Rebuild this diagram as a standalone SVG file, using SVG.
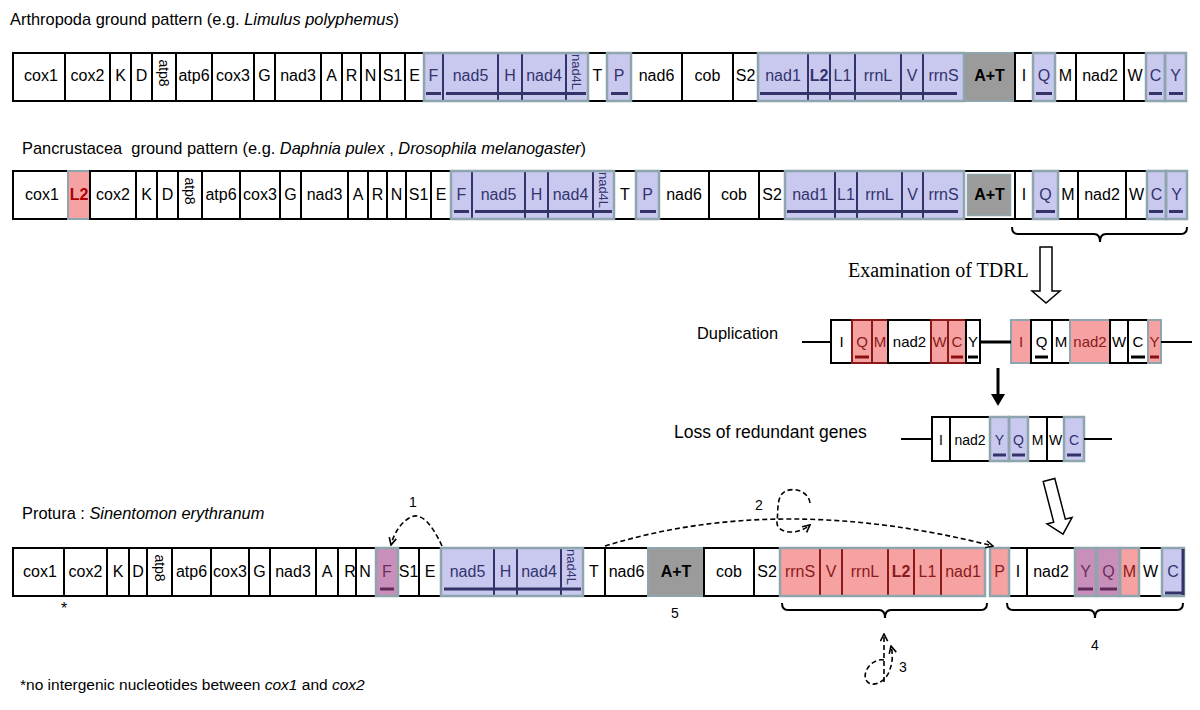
<svg xmlns="http://www.w3.org/2000/svg" width="1200" height="710" viewBox="0 0 1200 710">
<style>
.w{fill:#fff;stroke:#000;stroke-width:2}
.bl{fill:#c9c9ef;stroke:#33336a;stroke-width:2}
.pk{fill:#f6a2a2;stroke:#8a1a1a;stroke-width:2}
.pu{fill:#c98fbb;stroke:#5a3a6a;stroke-width:2}
.gy{fill:#9b9b9b;stroke:#8fa5ad;stroke-width:2}
.ol{fill:none;stroke:#8fa5ad;stroke-width:2.5}
.t{font-family:"Liberation Sans",Arial,sans-serif;font-size:16px;text-anchor:middle;fill:#000}
.s15{font-size:15px}
.s14{font-size:14px}
.tn{fill:#33336e}
.tr{fill:#8b1a1a}
.tpu{fill:#6a2f5a}
.bd{font-weight:bold}
.rot{font-size:14px}
.bar{stroke:#33336a;stroke-width:3}
.barr{stroke:#8a1010;stroke-width:3}
.bark{stroke:#000;stroke-width:3}
.barp{stroke:#5e2a5a;stroke-width:3}
.ti{font-family:"Liberation Sans",Arial,sans-serif;font-size:16.4px;fill:#000}
.it{font-style:italic}
.ln{stroke:#000;stroke-width:2}
.dash{fill:none;stroke:#000;stroke-width:1.6;stroke-dasharray:5 3}
.brace{fill:none;stroke:#000;stroke-width:2}
.hol{fill:#fff;stroke:#000;stroke-width:1.5}
.num{font-family:"Liberation Sans",Arial,sans-serif;font-size:14px;text-anchor:middle;fill:#000}
</style>
<defs>
<marker id="ah" viewBox="0 0 10 10" refX="9" refY="5" markerWidth="9" markerHeight="9" markerUnits="userSpaceOnUse" orient="auto"><path d="M1,1 L9,5 L1,9" fill="none" stroke="#000" stroke-width="1.8"/></marker>
</defs>

<text class="ti" x="10" y="25">Arthropoda ground pattern (e.g. <tspan class="it">Limulus polyphemus</tspan>)</text>
<text class="ti" x="22" y="154" xml:space="preserve">Pancrustacea  ground pattern (e.g. <tspan class="it">Daphnia pulex</tspan> , <tspan class="it">Drosophila melanogaster</tspan>)</text>
<text class="ti" x="22" y="519">Protura : <tspan class="it">Sinentomon erythranum</tspan></text>

<!-- Row 1 -->
<g id="row1">
<g id="r1-cox1"><rect class="w" x="13" y="53" width="52" height="48"/><text class="t" x="41" y="81">cox1</text></g>
<g id="r1-cox2"><rect class="w" x="65" y="53" width="45" height="48"/><text class="t" x="87.5" y="81">cox2</text></g>
<g id="r1-K"><rect class="w" x="110" y="53" width="21" height="48"/><text class="t" x="120.5" y="81">K</text></g>
<g id="r1-D"><rect class="w" x="131" y="53" width="21" height="48"/><text class="t" x="141.5" y="81">D</text></g>
<g id="r1-atp8"><rect class="w" x="152" y="53" width="24" height="48"/><text class="t rot" transform="translate(164,73) rotate(90)" dy="0.35em">atp8</text></g>
<g id="r1-atp6"><rect class="w" x="176" y="53" width="36" height="48"/><text class="t" x="194" y="81">atp6</text></g>
<g id="r1-cox3"><rect class="w" x="212" y="53" width="42" height="48"/><text class="t" x="233" y="81">cox3</text></g>
<g id="r1-G"><rect class="w" x="254" y="53" width="21" height="48"/><text class="t" x="264.5" y="81">G</text></g>
<g id="r1-nad3"><rect class="w" x="275" y="53" width="46" height="48"/><text class="t" x="298" y="81">nad3</text></g>
<g id="r1-A"><rect class="w" x="321" y="53" width="21" height="48"/><text class="t" x="331.5" y="81">A</text></g>
<g id="r1-R"><rect class="w" x="342" y="53" width="19" height="48"/><text class="t" x="351.5" y="81">R</text></g>
<g id="r1-N"><rect class="w" x="361" y="53" width="19" height="48"/><text class="t" x="370.5" y="81">N</text></g>
<g id="r1-S1"><rect class="w" x="380" y="53" width="25" height="48"/><text class="t" x="392.5" y="81">S1</text></g>
<g id="r1-E"><rect class="w" x="405" y="53" width="19" height="48"/><text class="t" x="414.5" y="81">E</text></g>
<g id="r1-F"><rect class="bl" x="424" y="53" width="19" height="48"/><text class="t tn" x="433.5" y="81">F</text></g>
<g id="r1-nad5"><rect class="bl" x="443" y="53" width="55" height="48"/><text class="t tn" x="470.5" y="81">nad5</text></g>
<g id="r1-H"><rect class="bl" x="498" y="53" width="24" height="48"/><text class="t tn" x="510" y="81">H</text></g>
<g id="r1-nad4"><rect class="bl" x="522" y="53" width="44" height="48"/><text class="t tn" x="544" y="81">nad4</text></g>
<g id="r1-nad4L"><rect class="bl" x="566" y="53" width="22" height="48"/><text class="t tn" style="font-size:13px" transform="translate(577,72) rotate(90)" dy="0.35em">nad4L</text></g>
<g id="r1-T"><rect class="w" x="588" y="53" width="19" height="48"/><text class="t" x="597.5" y="81">T</text></g>
<g id="r1-P"><rect class="bl" x="607" y="53" width="24" height="48"/><text class="t tn" x="619" y="81">P</text></g>
<g id="r1-nad6"><rect class="w" x="631" y="53" width="51" height="48"/><text class="t" x="656.5" y="81">nad6</text></g>
<g id="r1-cob"><rect class="w" x="682" y="53" width="51" height="48"/><text class="t" x="707.5" y="81">cob</text></g>
<g id="r1-S2"><rect class="w" x="733" y="53" width="25" height="48"/><text class="t" x="745.5" y="81">S2</text></g>
<g id="r1-nad1"><rect class="bl" x="758" y="53" width="50" height="48"/><text class="t tn" x="783" y="81">nad1</text></g>
<g id="r1-L2"><rect class="bl" x="808" y="53" width="22" height="48"/><text class="t tn bd" x="819" y="81">L2</text></g>
<g id="r1-L1"><rect class="bl" x="830" y="53" width="25" height="48"/><text class="t tn" x="842.5" y="81">L1</text></g>
<g id="r1-rrnL"><rect class="bl" x="855" y="53" width="46" height="48"/><text class="t tn" x="878" y="81">rrnL</text></g>
<g id="r1-V"><rect class="bl" x="901" y="53" width="22" height="48"/><text class="t tn" x="912" y="81">V</text></g>
<g id="r1-rrnS"><rect class="bl" x="923" y="53" width="41" height="48"/><text class="t tn" x="943.5" y="81">rrnS</text></g>
<g id="r1-AT"><rect class="gy" x="964" y="53" width="51" height="48"/><text class="t bd" x="989.5" y="81">A+T</text></g>
<g id="r1-I"><rect class="w" x="1015" y="53" width="18" height="48"/><text class="t" x="1024" y="81">I</text></g>
<g id="r1-Q"><rect class="bl" x="1033" y="53" width="22" height="48"/><text class="t tn" x="1044" y="81">Q</text></g>
<g id="r1-M"><rect class="w" x="1055" y="53" width="21" height="48"/><text class="t" x="1065.5" y="81">M</text></g>
<g id="r1-nad2"><rect class="w" x="1076" y="53" width="48" height="48"/><text class="t" x="1100" y="81">nad2</text></g>
<g id="r1-W"><rect class="w" x="1124" y="53" width="22" height="48"/><text class="t" x="1135" y="81">W</text></g>
<g id="r1-C"><rect class="bl" x="1146" y="53" width="19" height="48"/><text class="t tn" x="1155.5" y="81">C</text></g>
<g id="r1-Y"><rect class="bl" x="1165" y="53" width="21" height="48"/><text class="t tn" x="1175.5" y="81">Y</text></g>
<g id="r1-marks">
<line class="bar" x1="426" y1="93.5" x2="441" y2="93.5"/><line class="bar" x1="446" y1="93.5" x2="586" y2="93.5"/>
<line class="bar" x1="611" y1="93.5" x2="628" y2="93.5"/><line class="bar" x1="760" y1="93.5" x2="957" y2="93.5"/>
<line class="bar" x1="1036" y1="93.5" x2="1052" y2="93.5"/><line class="bar" x1="1149" y1="93.5" x2="1162" y2="93.5"/><line class="bar" x1="1169" y1="93.5" x2="1183" y2="93.5"/>
<rect class="ol" x="424" y="53" width="164" height="48"/><rect class="ol" x="607" y="53" width="24" height="48"/>
<rect class="ol" x="758" y="53" width="206" height="48"/><rect class="ol" x="1033" y="53" width="22" height="48"/>
<rect class="ol" x="1146" y="53" width="19" height="48"/><rect class="ol" x="1165" y="53" width="21" height="48"/>
</g>
</g>

<!-- Row 2 -->
<g id="row2">
<g id="r2-cox1"><rect class="w" x="13" y="171" width="55" height="48"/><text class="t" x="42" y="200">cox1</text></g>
<g id="r2-L2"><rect class="pk" x="68" y="171" width="22" height="48" style="stroke:#8fa5ad"/><text class="t bd" x="79" y="200" style="fill:#b00000">L2</text></g>
<g id="r2-cox2"><rect class="w" x="90" y="171" width="46" height="48"/><text class="t" x="113" y="200">cox2</text></g>
<g id="r2-K"><rect class="w" x="136" y="171" width="21" height="48"/><text class="t" x="146.5" y="200">K</text></g>
<g id="r2-D"><rect class="w" x="157" y="171" width="21" height="48"/><text class="t" x="167.5" y="200">D</text></g>
<g id="r2-atp8"><rect class="w" x="178" y="171" width="24" height="48"/><text class="t rot" transform="translate(190,191) rotate(90)" dy="0.35em">atp8</text></g>
<g id="r2-atp6"><rect class="w" x="202" y="171" width="38" height="48"/><text class="t" x="221" y="200">atp6</text></g>
<g id="r2-cox3"><rect class="w" x="240" y="171" width="40" height="48"/><text class="t" x="260" y="200">cox3</text></g>
<g id="r2-G"><rect class="w" x="280" y="171" width="21" height="48"/><text class="t" x="290.5" y="200">G</text></g>
<g id="r2-nad3"><rect class="w" x="301" y="171" width="47" height="48"/><text class="t" x="324.5" y="200">nad3</text></g>
<g id="r2-A"><rect class="w" x="348" y="171" width="20" height="48"/><text class="t" x="358" y="200">A</text></g>
<g id="r2-R"><rect class="w" x="368" y="171" width="19" height="48"/><text class="t" x="377.5" y="200">R</text></g>
<g id="r2-N"><rect class="w" x="387" y="171" width="19" height="48"/><text class="t" x="396.5" y="200">N</text></g>
<g id="r2-S1"><rect class="w" x="406" y="171" width="25" height="48"/><text class="t" x="418.5" y="200">S1</text></g>
<g id="r2-E"><rect class="w" x="431" y="171" width="20" height="48"/><text class="t" x="441" y="200">E</text></g>
<g id="r2-F"><rect class="bl" x="451" y="171" width="21" height="48"/><text class="t tn" x="461.5" y="200">F</text></g>
<g id="r2-nad5"><rect class="bl" x="472" y="171" width="53" height="48"/><text class="t tn" x="498.5" y="200">nad5</text></g>
<g id="r2-H"><rect class="bl" x="525" y="171" width="23" height="48"/><text class="t tn" x="536.5" y="200">H</text></g>
<g id="r2-nad4"><rect class="bl" x="548" y="171" width="45" height="48"/><text class="t tn" x="570.5" y="200">nad4</text></g>
<g id="r2-nad4L"><rect class="bl" x="593" y="171" width="21" height="48"/><text class="t tn" style="font-size:13px" transform="translate(603.5,190) rotate(90)" dy="0.35em">nad4L</text></g>
<g id="r2-T"><rect class="w" x="614" y="171" width="22" height="48"/><text class="t" x="625" y="200">T</text></g>
<g id="r2-P"><rect class="bl" x="636" y="171" width="23" height="48"/><text class="t tn" x="647.5" y="200">P</text></g>
<g id="r2-nad6"><rect class="w" x="659" y="171" width="50" height="48"/><text class="t" x="684" y="200">nad6</text></g>
<g id="r2-cob"><rect class="w" x="709" y="171" width="50" height="48"/><text class="t" x="734" y="200">cob</text></g>
<g id="r2-S2"><rect class="w" x="759" y="171" width="26" height="48"/><text class="t" x="772" y="200">S2</text></g>
<g id="r2-nad1"><rect class="bl" x="785" y="171" width="50" height="48"/><text class="t tn" x="810" y="200">nad1</text></g>
<g id="r2-L1"><rect class="bl" x="835" y="171" width="22" height="48"/><text class="t tn" x="846" y="200">L1</text></g>
<g id="r2-rrnL"><rect class="bl" x="857" y="171" width="45" height="48"/><text class="t tn" x="879.5" y="200">rrnL</text></g>
<g id="r2-V"><rect class="bl" x="902" y="171" width="21" height="48"/><text class="t tn" x="912.5" y="200">V</text></g>
<g id="r2-rrnS"><rect class="bl" x="923" y="171" width="41" height="48"/><text class="t tn" x="943.5" y="200">rrnS</text></g>
<g id="r2-AT"><rect class="w" x="964" y="171" width="51" height="48"/><rect x="967.5" y="174.5" width="43" height="41" style="fill:#9b9b9b;stroke:#8fa5ad;stroke-width:1.5"/><text class="t bd" x="989.5" y="200">A+T</text></g>
<g id="r2-I"><rect class="w" x="1015" y="171" width="18" height="48"/><text class="t" x="1024" y="200">I</text></g>
<g id="r2-Q"><rect class="bl" x="1033" y="171" width="25" height="48"/><text class="t tn" x="1045.5" y="200">Q</text></g>
<g id="r2-M"><rect class="w" x="1058" y="171" width="20" height="48"/><text class="t" x="1068" y="200">M</text></g>
<g id="r2-nad2"><rect class="w" x="1078" y="171" width="48" height="48"/><text class="t" x="1102" y="200">nad2</text></g>
<g id="r2-W"><rect class="w" x="1126" y="171" width="21" height="48"/><text class="t" x="1136.5" y="200">W</text></g>
<g id="r2-C"><rect class="bl" x="1147" y="171" width="19" height="48"/><text class="t tn" x="1156.5" y="200">C</text></g>
<g id="r2-Y"><rect class="bl" x="1166" y="171" width="21" height="48"/><text class="t tn" x="1176.5" y="200">Y</text></g>
<g id="r2-marks">
<line class="bar" x1="454" y1="211.5" x2="469" y2="211.5"/><line class="bar" x1="475" y1="211.5" x2="612" y2="211.5"/>
<line class="bar" x1="640" y1="211.5" x2="656" y2="211.5"/><line class="bar" x1="787" y1="211.5" x2="958" y2="211.5"/>
<line class="bar" x1="1036" y1="211.5" x2="1055" y2="211.5"/><line class="bar" x1="1149" y1="211.5" x2="1163" y2="211.5"/><line class="bar" x1="1169" y1="211.5" x2="1183" y2="211.5"/>
<rect class="ol" x="451" y="171" width="163" height="48"/><rect class="ol" x="636" y="171" width="23" height="48"/>
<rect class="ol" x="785" y="171" width="179" height="48"/><rect class="ol" x="1033" y="171" width="25" height="48"/>
<rect class="ol" x="1147" y="171" width="19" height="48"/><rect class="ol" x="1166" y="171" width="21" height="48"/>
</g>
</g>

<!-- Row 3 -->
<g id="row3">
<g id="r3-cox1"><rect class="w" x="13" y="548" width="51" height="48"/><text class="t" x="40" y="577">cox1</text></g>
<g id="r3-cox2"><rect class="w" x="64" y="548" width="43" height="48"/><text class="t" x="85.5" y="577">cox2</text></g>
<g id="r3-K"><rect class="w" x="107" y="548" width="22" height="48"/><text class="t" x="118" y="577">K</text></g>
<g id="r3-D"><rect class="w" x="129" y="548" width="18" height="48"/><text class="t" x="138" y="577">D</text></g>
<g id="r3-atp8"><rect class="w" x="147" y="548" width="25" height="48"/><text class="t rot" transform="translate(159.5,568) rotate(90)" dy="0.35em">atp8</text></g>
<g id="r3-atp6"><rect class="w" x="172" y="548" width="39" height="48"/><text class="t" x="191.5" y="577">atp6</text></g>
<g id="r3-cox3"><rect class="w" x="211" y="548" width="38" height="48"/><text class="t" x="230" y="577">cox3</text></g>
<g id="r3-G"><rect class="w" x="249" y="548" width="21" height="48"/><text class="t" x="259.5" y="577">G</text></g>
<g id="r3-nad3"><rect class="w" x="270" y="548" width="46" height="48"/><text class="t" x="293" y="577">nad3</text></g>
<g id="r3-A"><rect class="w" x="316" y="548" width="22" height="48"/><text class="t" x="327" y="577">A</text></g>
<g id="r3-R"><rect class="w" x="338" y="548" width="18" height="48"/><text class="t" x="350" y="577">R</text></g>
<g id="r3-N"><rect class="w" x="356" y="548" width="20" height="48"/><text class="t" x="365" y="577">N</text></g>
<g id="r3-F"><rect class="pu" x="376" y="548" width="22" height="48"/><text class="t tpu" x="387" y="577">F</text></g>
<g id="r3-S1"><rect class="w" x="398" y="548" width="21" height="48"/><text class="t" x="408.5" y="577">S1</text></g>
<g id="r3-E"><rect class="w" x="419" y="548" width="22" height="48"/><text class="t" x="430" y="577">E</text></g>
<g id="r3-nad5"><rect class="bl" x="441" y="548" width="53" height="48"/><text class="t tn" x="467.5" y="577">nad5</text></g>
<g id="r3-H"><rect class="bl" x="494" y="548" width="23" height="48"/><text class="t tn" x="505.5" y="577">H</text></g>
<g id="r3-nad4"><rect class="bl" x="517" y="548" width="44" height="48"/><text class="t tn" x="539" y="577">nad4</text></g>
<g id="r3-nad4L"><rect class="bl" x="561" y="548" width="22" height="48"/><text class="t tn" style="font-size:13px" transform="translate(572,567) rotate(90)" dy="0.35em">nad4L</text></g>
<g id="r3-T"><rect class="w" x="583" y="548" width="22" height="48"/><text class="t" x="594" y="577">T</text></g>
<g id="r3-nad6"><rect class="w" x="605" y="548" width="43" height="48"/><text class="t" x="626.5" y="577">nad6</text></g>
<g id="r3-AT"><rect class="gy" x="648" y="548" width="56" height="48"/><text class="t bd" x="676" y="577">A+T</text></g>
<g id="r3-cob"><rect class="w" x="704" y="548" width="50" height="48"/><text class="t" x="729" y="577">cob</text></g>
<g id="r3-S2"><rect class="w" x="754" y="548" width="26" height="48"/><text class="t" x="767" y="577">S2</text></g>
<g id="r3-rrnS"><rect class="pk" x="780" y="548" width="40" height="48"/><text class="t tr" x="800" y="577">rrnS</text></g>
<g id="r3-V"><rect class="pk" x="820" y="548" width="22" height="48"/><text class="t tr" x="831" y="577">V</text></g>
<g id="r3-rrnL"><rect class="pk" x="842" y="548" width="46" height="48"/><text class="t tr" x="865" y="577">rrnL</text></g>
<g id="r3-L2"><rect class="pk" x="888" y="548" width="26" height="48"/><text class="t tr bd" x="901" y="577">L2</text></g>
<g id="r3-L1"><rect class="pk" x="914" y="548" width="27" height="48"/><text class="t tr" x="927.5" y="577">L1</text></g>
<g id="r3-nad1"><rect class="pk" x="941" y="548" width="44" height="48"/><text class="t tr" x="963" y="577">nad1</text></g>
<g id="r3-P"><rect class="pk" x="990" y="548" width="19" height="48"/><text class="t tr" x="999.5" y="577">P</text></g>
<g id="r3-I"><rect class="w" x="1009" y="548" width="18" height="48"/><text class="t" x="1018" y="577">I</text></g>
<g id="r3-nad2"><rect class="w" x="1027" y="548" width="48" height="48"/><text class="t" x="1051" y="577">nad2</text></g>
<g id="r3-Y"><rect class="pu" x="1075" y="548" width="21" height="48"/><text class="t tpu" x="1085.5" y="577">Y</text></g>
<g id="r3-Q"><rect class="pu" x="1097" y="548" width="23" height="48"/><text class="t tpu" x="1108.5" y="577">Q</text></g>
<g id="r3-M"><rect class="pk" x="1120" y="548" width="19" height="48"/><text class="t tr" x="1129.5" y="577">M</text></g>
<g id="r3-W"><rect class="w" x="1139" y="548" width="23" height="48"/><text class="t" x="1150.5" y="577">W</text></g>
<g id="r3-C"><rect class="bl" x="1162" y="548" width="22" height="48"/><text class="t tn" x="1173" y="577">C</text></g>
<g id="r3-marks">
<line class="barp" x1="380" y1="589" x2="394" y2="589"/><line class="bar" x1="444" y1="589" x2="581" y2="589"/>
<line class="barp" x1="1078" y1="589" x2="1093" y2="589"/><line class="barp" x1="1100" y1="589" x2="1117" y2="589"/>
<line class="bar" x1="1165" y1="593" x2="1182" y2="593"/>
<rect class="ol" x="376" y="548" width="22" height="48"/><rect class="ol" x="441" y="548" width="142" height="48"/>
<rect class="ol" x="780" y="548" width="205" height="48"/><rect class="ol" x="990" y="548" width="19" height="48"/>
<rect class="ol" x="1075" y="548" width="21" height="48"/><rect class="ol" x="1097" y="548" width="23" height="48"/>
<rect class="ol" x="1120" y="548" width="19" height="48"/><rect class="ol" x="1162" y="548" width="22" height="48"/>
<line x1="1183" y1="549" x2="1183" y2="595" class="bar"/>
</g>
</g>

<!-- Duplication -->
<text class="ti" x="697" y="339">Duplication</text>
<g id="dup1">
<rect class="w" x="831" y="320" width="21" height="43"/><text class="t s15" x="841.5" y="347">I</text>
<rect class="pk" x="852" y="320" width="20" height="43"/><text class="t s15 tr" x="862" y="347">Q</text>
<rect class="pk" x="872" y="320" width="16" height="43"/><text class="t s15 tr" x="880" y="347">M</text>
<rect class="w" x="888" y="320" width="43" height="43"/><text class="t s15" x="909.5" y="347">nad2</text>
<rect class="pk" x="931" y="320" width="17" height="43"/><text class="t s15 tr" x="939.5" y="347">W</text>
<rect class="pk" x="948" y="320" width="18" height="43"/><text class="t s15 tr" x="957" y="347">C</text>
<rect class="w" x="966" y="320" width="14" height="43"/><text class="t s15" x="973" y="347">Y</text>
<line class="barr" x1="855" y1="357" x2="869" y2="357"/><line class="barr" x1="951" y1="357" x2="963" y2="357"/><line class="bark" x1="968" y1="357" x2="978" y2="357"/>
</g>
<g id="dup2">
<rect class="pk" x="1011" y="320" width="20" height="43" style="stroke:#8fa5ad"/><text class="t s15 tr" x="1021" y="347">I</text>
<rect class="w" x="1031" y="320" width="21" height="43"/><text class="t s15" x="1041.5" y="347">Q</text>
<rect class="w" x="1052" y="320" width="18" height="43"/><text class="t s15" x="1061" y="347">M</text>
<rect class="pk" x="1070" y="320" width="40" height="43" style="stroke:#8fa5ad"/><text class="t s15 tr" x="1090" y="347">nad2</text>
<rect class="w" x="1110" y="320" width="18" height="43"/><text class="t s15" x="1119" y="347">W</text>
<rect class="w" x="1128" y="320" width="20" height="43"/><text class="t s15" x="1138" y="347">C</text>
<rect class="pk" x="1148" y="320" width="13" height="43" style="stroke:#8fa5ad"/><text class="t s15 tr" x="1154.5" y="347">Y</text>
<line class="bark" x1="1035" y1="357" x2="1048" y2="357"/><line class="bark" x1="1131" y1="357" x2="1145" y2="357"/><line class="barr" x1="1150" y1="357" x2="1159" y2="357"/>
</g>

<!-- Loss -->
<text class="ti" x="674" y="438" style="font-size:17.5px">Loss of redundant genes</text>
<g id="loss">
<rect class="w" x="932" y="417" width="18" height="44"/><text class="t s14" x="941" y="445">I</text>
<rect class="w" x="950" y="417" width="40" height="44"/><text class="t s14" x="970" y="445">nad2</text>
<rect class="bl" x="990" y="417" width="19" height="44"/><text class="t s14 tn" x="999.5" y="445">Y</text>
<rect class="bl" x="1009" y="417" width="19" height="44"/><text class="t s14 tn" x="1018.5" y="445">Q</text>
<rect class="w" x="1028" y="417" width="19" height="44"/><text class="t s14" x="1037.5" y="445">M</text>
<rect class="w" x="1047" y="417" width="17" height="44"/><text class="t s14" x="1055.5" y="445">W</text>
<rect class="bl" x="1064" y="417" width="20" height="44"/><text class="t s14 tn" x="1074" y="445">C</text>
<line class="bar" x1="993" y1="455" x2="1006" y2="455"/><line class="bar" x1="1012" y1="455" x2="1025" y2="455"/><line class="bar" x1="1067" y1="455" x2="1081" y2="455"/>
<rect class="ol" x="990" y="417" width="19" height="44"/><rect class="ol" x="1009" y="417" width="19" height="44"/><rect class="ol" x="1064" y="417" width="20" height="44"/>
</g>

<text x="848" y="277" style="font-family:'Liberation Serif','Times New Roman',serif;font-size:20px;fill:#000">Examination of TDRL</text>

<!-- connectors -->
<g id="connectors">
<path class="brace" d="M1012,227 Q1012,234 1018,234 L1094,234 Q1100,234 1100,242 Q1100,234 1106,234 L1181,234 Q1187,234 1187,227"/>
<polygon class="hol" points="1040,247 1052,247 1052,291 1060,291 1046,303 1032,291 1040,291"/>
<line class="ln" x1="802" y1="342" x2="831" y2="342"/>
<line x1="980" y1="342" x2="1011" y2="342" style="stroke:#000;stroke-width:3"/>
<line class="ln" x1="1161" y1="342" x2="1192" y2="342"/>
<line x1="998" y1="368" x2="998" y2="396" style="stroke:#000;stroke-width:3"/>
<polygon points="991,394 1005,394 998,406" fill="#000"/>
<line class="ln" x1="901" y1="439" x2="932" y2="439"/>
<line class="ln" x1="1084" y1="439" x2="1112" y2="439"/>
<polygon class="hol" transform="translate(1049,480) rotate(-14.5)" points="-6,0 6,0 6,42 13,42 0,56 -13,42 -6,42"/>
<path class="dash" d="M442,546 C432,524 421,512 411,517 C401,522 394,533 391,545" marker-end="url(#ah)"/>
<path class="dash" d="M605,546 Q780,492 993,546" marker-end="url(#ah)"/>
<path class="dash" d="M810,503 C808,488 785,485 780,497 C777,505 778,515 777,522 C776,532 795,537 810,525" marker-end="url(#ah)"/>
<path class="brace" d="M782,603 Q782,610 788,610 L879,610 Q885,610 885,618 Q885,610 891,610 L981,610 Q987,610 987,603"/>
<path class="brace" d="M1007,603 Q1007,610 1013,610 L1089,610 Q1095,610 1095,618 Q1095,610 1101,610 L1177,610 Q1183,610 1183,603"/>
<path class="dash" d="M884,682 L884,634" marker-end="url(#ah)"/>
<path class="dash" d="M884,660 C872,658 862,672 866,680 C870,688 884,684 889,672 C893,662 893,654 891,646" marker-end="url(#ah)"/>
</g>

<text class="num" x="413" y="507">1</text>
<text class="num" x="759" y="510">2</text>
<text class="num" x="903" y="672">3</text>
<text class="num" x="1095" y="650">4</text>
<text class="num" x="675" y="618">5</text>
<text class="num" x="64" y="614" style="font-size:16px">*</text>
<text class="ti" x="20" y="690" style="font-size:15.5px">*no intergenic nucleotides between <tspan class="it">cox1</tspan> and <tspan class="it">cox2</tspan></text>
</svg>
